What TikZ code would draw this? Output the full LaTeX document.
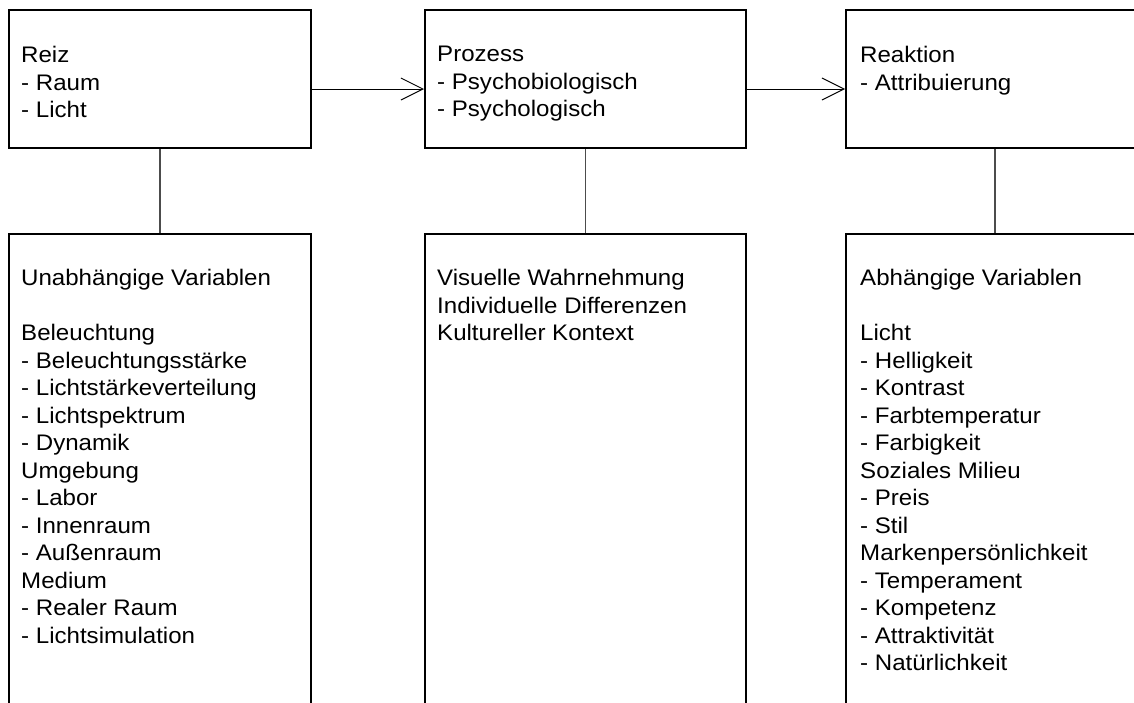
\documentclass[tikz,border=0pt]{standalone}
\usepackage{fontspec}
\setmainfont{Liberation Sans}[FakeStretch=1.07]
\usetikzlibrary{arrows.meta}
\begin{document}
\begin{tikzpicture}[x=1pt,y=-1pt,
  box/.style={draw=black, line width=2pt, rectangle, inner sep=0pt},
  txt/.style={anchor=north west, inner sep=0pt, align=left, font=\fontsize{22.5pt}{27.5pt}\selectfont},
  link/.style={draw=black!70, line width=1.2pt},
  flow/.style={draw=black, line width=1pt, -{Straight Barb[length=22pt,width=22pt,line width=1pt]}}]
\useasboundingbox (0,0) rectangle (1134,702);
\clip (0,0) rectangle (1134,702);
% top boxes
\node[box, minimum width=302pt, minimum height=138pt] (reiz) at (160,79) {};
\node[box, minimum width=321pt, minimum height=138pt] (proz) at (585.5,79) {};
\node[box, minimum width=298pt, minimum height=138pt] (reak) at (995,79) {};
% bottom boxes
\node[box, minimum width=302pt, minimum height=486pt] (unab) at (160,477) {};
\node[box, minimum width=321pt, minimum height=486pt] (wahr) at (585.5,477) {};
\node[box, minimum width=298pt, minimum height=486pt] (abh) at (995,477) {};
% texts
\node[txt] (reiztxt) at (21,46) {Reiz\\- Raum\\- Licht};
\node[txt] (proztxt) at (437,46) {Prozess\\- Psychobiologisch\\- Psychologisch};
\node[txt] (reaktxt) at (860,46) {Reaktion\\- Attribuierung};
\node[txt] (unabtxt) at (21,269) {Unabhängige Variablen\\ \\Beleuchtung\\- Beleuchtungsstärke\\- Lichtstärkeverteilung\\- Lichtspektrum\\- Dynamik\\Umgebung\\- Labor\\- Innenraum\\- Außenraum\\Medium\\- Realer Raum\\- Lichtsimulation};
\node[txt] (wahrtxt) at (437,269) {Visuelle Wahrnehmung\\Individuelle Differenzen\\Kultureller Kontext};
\node[txt] (abhtxt) at (860,269) {Abhängige Variablen\\ \\Licht\\- Helligkeit\\- Kontrast\\- Farbtemperatur\\- Farbigkeit\\Soziales Milieu\\- Preis\\- Stil\\Markenpersönlichkeit\\- Temperament\\- Kompetenz\\- Attraktivität\\- Natürlichkeit};
% connectors
\draw[link] (reiz.south) -- (unab.north);
\draw[link] (proz.south) -- (wahr.north);
\draw[link] (reak.south) -- (abh.north);
\draw[flow] ([yshift=-10pt]reiz.east) -- ([yshift=-10pt]proz.west);
\draw[flow] ([yshift=-10pt]proz.east) -- ([yshift=-10pt]reak.west);
\end{tikzpicture}
\end{document}
